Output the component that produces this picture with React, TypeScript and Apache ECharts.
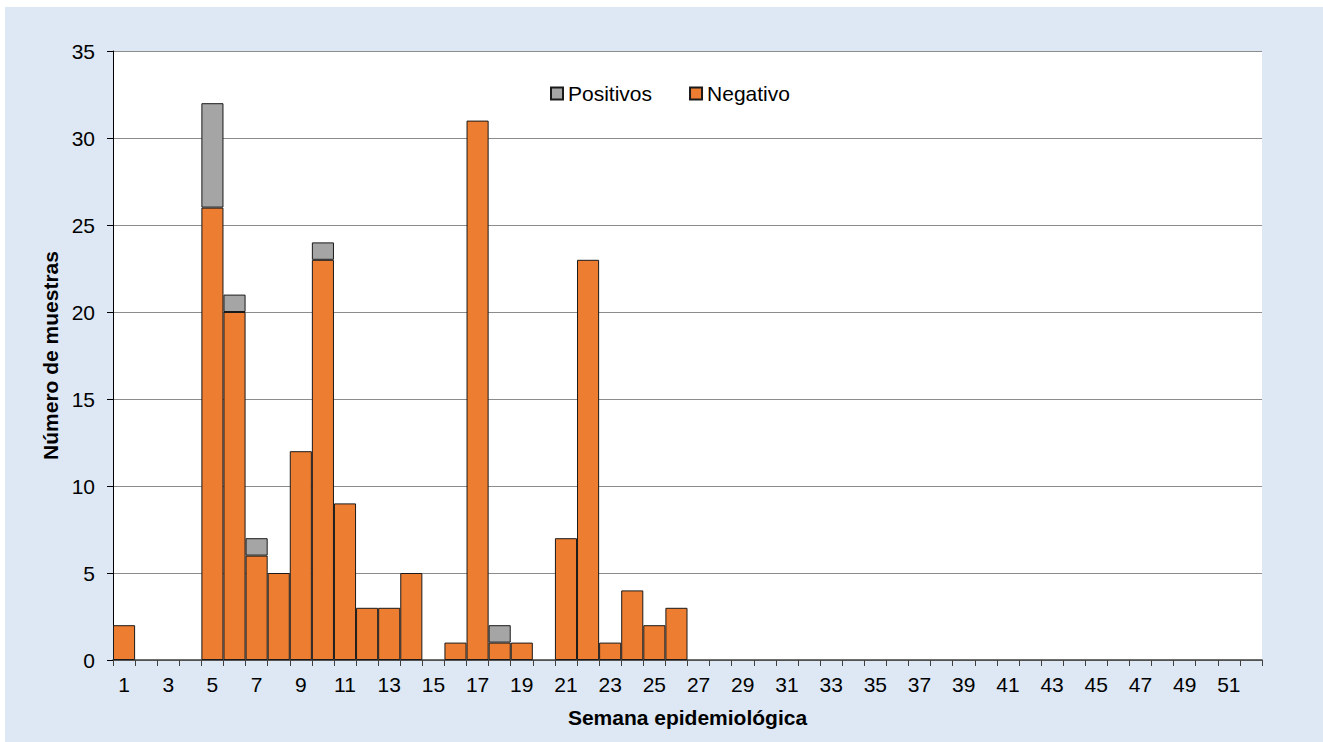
import React, { useEffect, useRef } from "react";
import * as echarts from "echarts";

const weeks: string[] = Array.from({ length: 52 }, (_, i) => String(i + 1));
const negativo: (number | null)[] = [
  2, null, null, null, 26, 20, 6, 5, 12, 23, 9, 3, 3, 5, null, 1, 31, 1, 1, null, 7, 23, 1, 4, 2, 3,
  null, null, null, null, null, null, null, null, null, null, null, null, null, null, null, null, null,
  null, null, null, null, null, null, null, null, null,
];
const positivos: (number | null)[] = [
  null, null, null, null, 6, 1, 1, null, null, 1, null, null, null, null, null, null, null, 1, null,
  null, null, null, null, null, null, null, null, null, null, null, null, null, null, null, null, null,
  null, null, null, null, null, null, null, null, null, null, null, null, null, null, null, null,
];

export default function App() {
  const ref = useRef<HTMLDivElement>(null);
  useEffect(() => {
    if (!ref.current) return;
    const chart = echarts.init(ref.current, null, { renderer: "svg" });
    const font = "Arial";
    chart.setOption({
      animation: false,
      textStyle: { fontFamily: font },
      legend: {
        data: ["Positivos", "Negativo"],
        icon: "rect",
        left: 540,
        top: 71,
        itemWidth: 12,
        itemHeight: 12,
        itemGap: 37,
        textStyle: { fontSize: 21, color: "#000", fontFamily: font },
      },
      grid: {
        left: 108,
        right: 61,
        top: 44,
        bottom: 82,
        show: true,
        backgroundColor: "#ffffff",
        borderWidth: 0,
      },
      xAxis: {
        type: "category",
        data: weeks,
        name: "Semana epidemiológica",
        nameLocation: "middle",
        nameGap: 47,
        nameTextStyle: { fontSize: 21, fontWeight: "bold", color: "#000", fontFamily: font },
        axisLine: { lineStyle: { color: "#404040", width: 1.5 } },
        axisTick: { show: true, interval: 0, length: 6, lineStyle: { color: "#404040" } },
        axisLabel: { interval: 1, fontSize: 21, color: "#000", margin: 14, fontFamily: font },
        splitLine: { show: false },
      },
      yAxis: {
        type: "value",
        min: 0,
        max: 35,
        interval: 5,
        name: "Número de muestras",
        nameLocation: "middle",
        nameGap: 40,
        nameTextStyle: { fontSize: 21, fontWeight: "bold", color: "#000", fontFamily: font },
        axisLine: { show: true, lineStyle: { color: "#000", width: 1 } },
        axisTick: { show: true, length: 6, lineStyle: { color: "#000" } },
        axisLabel: { fontSize: 21, color: "#000", margin: 18, fontFamily: font },
        splitLine: { lineStyle: { color: "#8c8c8c", width: 1 } },
      },
      series: [
        {
          name: "Negativo",
          type: "bar",
          stack: "total",
          data: negativo,
          barCategoryGap: "0%",
          itemStyle: { color: "#ed7d31", borderColor: "#1a1a1a", borderWidth: 1 },
        },
        {
          name: "Positivos",
          type: "bar",
          stack: "total",
          data: positivos,
          barCategoryGap: "0%",
          itemStyle: { color: "#a5a5a5", borderColor: "#1a1a1a", borderWidth: 1 },
        },
      ],
    });
    return () => chart.dispose();
  }, []);
  return (
    <div
      style={{
        position: "absolute",
        left: 5,
        top: 7,
        width: 1318,
        height: 735,
        backgroundColor: "#dde8f4",
      }}
    >
      <div ref={ref} style={{ width: 1318, height: 735 }} />
    </div>
  );
}
